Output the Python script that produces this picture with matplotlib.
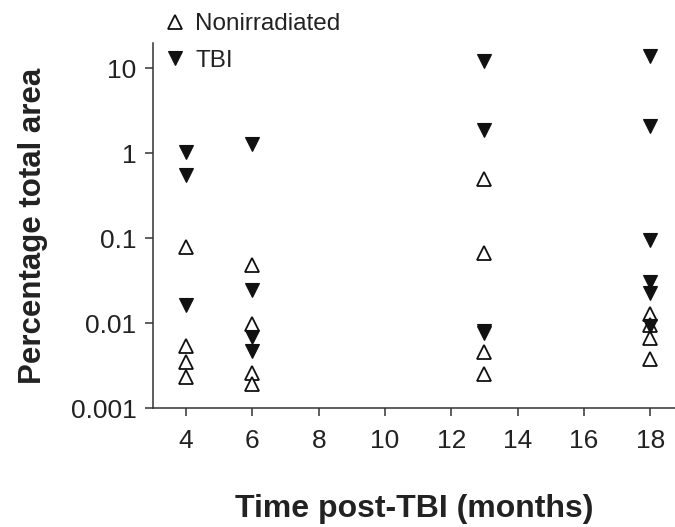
import matplotlib
matplotlib.use("Agg")
import matplotlib.pyplot as plt
import matplotlib.ticker as ticker

plt.rcParams["font.family"] = ["Liberation Sans", "DejaVu Sans"]

# -- Data ----------------------------------------------------------------------

months_non = [4, 4, 4, 4,
              6, 6, 6, 6,
              13, 13, 13, 13,
              18, 18, 18, 18]
area_non = [0.079, 0.0053, 0.0035, 0.0023,
            0.048, 0.0097, 0.0026, 0.0019,
            0.50, 0.067, 0.0046, 0.0025,
            0.0128, 0.0096, 0.0066, 0.0038]

months_tbi = [4, 4, 4,
              6, 6, 6, 6,
              13, 13, 13, 13,
              18, 18, 18, 18, 18, 18]
area_tbi = [1.03, 0.55, 0.0163,
            1.28, 0.0247, 0.0069, 0.0047,
            12.2, 1.87, 0.0081, 0.0076,
            13.8, 2.08, 0.095, 0.030, 0.0225, 0.0092]

x_ticks = [4, 6, 8, 10, 12, 14, 16, 18]
y_ticks = [0.001, 0.01, 0.1, 1, 10]
y_labels = ["0.001", "0.01", "0.1", "1", "10"]

TEXT = "#222222"
AXIS = "#333333"

# -- Plot ----------------------------------------------------------------------

fig = plt.figure(figsize=(6.75, 5.27), dpi=100)
ax = fig.add_axes([153 / 675, 119 / 527, 522 / 675, 365 / 527])

ax.plot(months_non, area_non, linestyle="none", marker="^", ms=9.5,
        mfc="white", mec="#111111", mew=1.3, label="Nonirradiated", zorder=3)
ax.plot(months_tbi, area_tbi, linestyle="none", marker="v", ms=9.5,
        mfc="#111111", mec="#111111", mew=0.8, label="TBI", zorder=4)

ax.set_yscale("log")
ax.set_ylim(0.001, 19.7)
ax.set_xlim(3.0, 18.75)
ax.set_xticks(x_ticks)
ax.set_yticks(y_ticks)
ax.set_yticklabels(y_labels)
ax.yaxis.set_minor_locator(ticker.NullLocator())

for side in ("top", "right"):
    ax.spines[side].set_visible(False)
for side in ("left", "bottom"):
    ax.spines[side].set_color(AXIS)
    ax.spines[side].set_linewidth(1.1)

ax.tick_params(axis="both", direction="out", length=6, width=1.1, color=AXIS,
               labelsize=19, labelcolor=TEXT)
ax.tick_params(axis="y", pad=6)
ax.tick_params(axis="x", pad=9)

ax.set_xlabel("Time post-TBI (months)", fontsize=23, fontweight="bold",
              color=TEXT, labelpad=30)
ax.set_ylabel("Percentage total area", fontsize=22.5, fontweight="bold",
              color=TEXT, labelpad=16)

ax.legend(loc="upper left", bbox_to_anchor=(160 / 675, 516 / 527),
          bbox_transform=fig.transFigure, frameon=False, fontsize=17.5,
          handlelength=1.0, handletextpad=0.35, labelspacing=0.58,
          borderpad=0.1, borderaxespad=0, labelcolor=TEXT)

fig.savefig("out.png", dpi=100)
